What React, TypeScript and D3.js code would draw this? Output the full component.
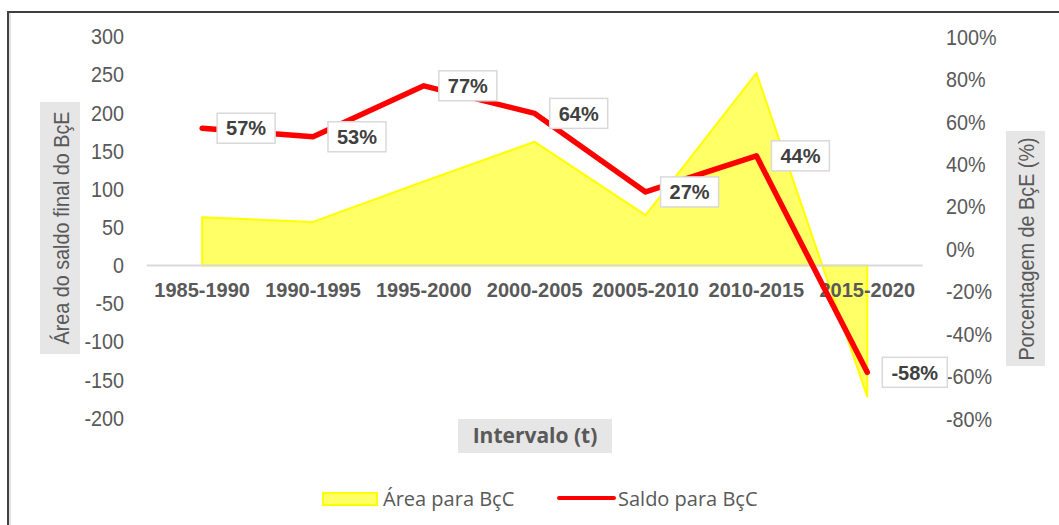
import React from 'react'
import { scaleBand, scaleLinear, area, line } from 'd3'

// categories and series
const intervals = ['1985-1990', '1990-1995', '1995-2000', '2000-2005', '20005-2010', '2010-2015', '2015-2020']
const areaValues = [63, 57, 110, 162, 66, 252, -172]
const saldoPct = [0.57, 0.53, 0.77, 0.64, 0.27, 0.44, -0.58]
const leftTicks = [300, 250, 200, 150, 100, 50, 0, -50, -100, -150, -200]
const rightTicks = [1, 0.8, 0.6, 0.4, 0.2, 0, -0.2, -0.4, -0.6, -0.8]

const W = 1059
const H = 525
const SANS = '"Liberation Sans", Arial, sans-serif'
const UI = '"Open Sans", "Noto Sans", sans-serif'
const GREY = '#595959'

// Excel renders these in a narrow face, so squeeze the text a little
const Narrow = ({ x, y, rotate = 0, sx = 0.9, anchor = 'middle', size = 22, weight = 'normal', fill = GREY, children }) => (
  <g transform={`translate(${x},${y}) rotate(${rotate}) scale(${sx},1)`}>
    <text textAnchor={anchor} dy="0.35em" fontFamily={SANS} fontSize={size} fontWeight={weight} fill={fill}>
      {children}
    </text>
  </g>
)

const App = () => {
  const x = scaleBand().domain(intervals).range([146.7, 922.7])
  const cx = (d) => x(d) + x.bandwidth() / 2
  const yL = scaleLinear().domain([-200, 300]).range([418, 36.5])
  const yR = scaleLinear().domain([-0.8, 1]).range([419, 37])

  const rows = intervals.map((d, i) => ({ d, a: areaValues[i], p: saldoPct[i] }))

  const areaPath = area()
    .x((r) => cx(r.d))
    .y0(yL(0))
    .y1((r) => yL(r.a))(rows)

  const linePath = line()
    .x((r) => cx(r.d))
    .y((r) => yR(r.p))(rows)

  return (
    <svg width={W} height={H} style={{ position: 'absolute', left: 0, top: 0, background: '#fff' }}>
      {/* chart frame */}
      <rect x={8} y={12} width={1060} height={530} fill="none" stroke="#404040" strokeWidth={2} />
      <line x1={10} y1={13} x2={10} y2={525} stroke="#d9d9d9" strokeWidth={1.5} />

      {/* left axis */}
      {leftTicks.map((t) => (
        <Narrow key={t} x={124} y={yL(t)} anchor="end">{t}</Narrow>
      ))}
      {/* right axis */}
      {rightTicks.map((t) => (
        <Narrow key={t} x={946} y={yR(t)} anchor="start">{`${Math.round(t * 100)}%`}</Narrow>
      ))}

      {/* area series */}
      <path d={areaPath} fill="#ffff66" stroke="#ffff00" strokeWidth={2} strokeLinejoin="round" />

      {/* zero line */}
      <line x1={146.7} x2={922.7} y1={yL(0)} y2={yL(0)} stroke="#d9d9d9" strokeWidth={2} />

      {/* x labels */}
      {intervals.map((d) => (
        <text key={d} x={cx(d)} y={297} textAnchor="middle" fontFamily={SANS} fontSize={20} fontWeight="bold" fill={GREY}>
          {d}
        </text>
      ))}

      {/* line series */}
      <path d={linePath} fill="none" stroke="#ff0000" strokeWidth={5.5} strokeLinejoin="round" strokeLinecap="round" />

      {/* data labels */}
      {rows.map((r) => {
        const label = `${Math.round(r.p * 100)}%`
        const bw = 37 + label.length * 7
        const bx = cx(r.d) + 15
        const by = yR(r.p)
        return (
          <g key={r.d}>
            <rect x={bx} y={by - 15} width={bw} height={30} fill="#fff" stroke="#d9d9d9" strokeWidth={1.5} />
            <text x={bx + bw / 2} y={by} dy="0.36em" textAnchor="middle" fontFamily={SANS} fontSize={20} fontWeight="bold" fill="#404040">
              {label}
            </text>
          </g>
        )
      })}

      {/* axis titles */}
      <rect x={40} y={102} width={40} height={252} fill="#e7e6e6" />
      <Narrow x={61} y={228} rotate={-90}>Área do saldo final do BçE</Narrow>
      <rect x={1006} y={131} width={39} height={235} fill="#e7e6e6" />
      <Narrow x={1026} y={249} rotate={-90}>Porcentagem de BçE (%)</Narrow>
      <rect x={458} y={419} width={154} height={34} fill="#e7e6e6" />
      <text x={535} y={436} dy="0.35em" textAnchor="middle" fontFamily={UI} fontSize={21} fontWeight="bold" fill={GREY}>
        Intervalo (t)
      </text>

      {/* legend */}
      <rect x={323} y={493} width={54} height={12} fill="#ffff66" stroke="#ffff00" strokeWidth={2} />
      <text x={383} y={506} fontFamily={UI} fontSize={20} fill={GREY}>Área para BçC</text>
      <line x1={559} x2={614} y1={498} y2={498} stroke="#ff0000" strokeWidth={4} strokeLinecap="round" />
      <text x={618} y={506} fontFamily={UI} fontSize={20} fill={GREY}>Saldo para BçC</text>
    </svg>
  )
}

export default App
